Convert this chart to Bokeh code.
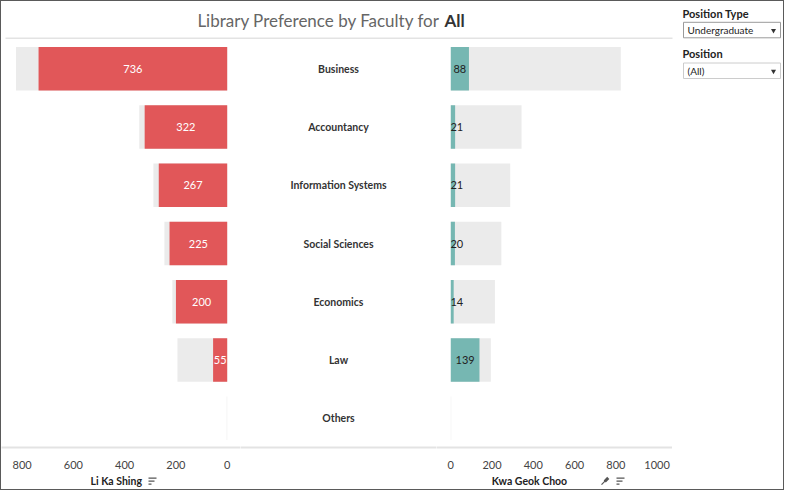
import math
from bokeh.plotting import figure
from bokeh.layouts import column, row
from bokeh.models import Range1d, FactorRange, FixedTicker, ColumnDataSource
from bokeh.core.properties import value
from bokeh.embed import file_html
from bokeh.resources import INLINE

# ---------------- data ----------------
faculties = ["Business", "Accountancy", "Information Systems", "Social Sciences",
             "Economics", "Law", "Others"]
li_ka_shing = [736, 322, 267, 225, 200, 55, 0]
kwa_geok_choo = [88, 21, 21, 20, 14, 139, 0]
faculty_total = [824, 343, 288, 245, 214, 194, 2]
left_ticks = [0, 200, 400, 600, 800]
right_ticks = [0, 200, 400, 600, 800, 1000]

title_text = "Library Preference by Faculty for "
title_bold = "All"
left_title = "Li Ka Shing"
right_title = "Kwa Geok Choo"
position_type_label = "Position Type"
position_type_value = "Undergraduate"
position_label = "Position"
position_value = "(All)"

FONT = "Lato"
RED = "#e15759"
TEAL = "#76b7b2"
GRAY = "#ebebeb"
AXIS_LINE = "#e3e3e3"
TXT = "#333333"

# inner canvas 782 x 486 (plus 1px border => 784 x 488)
HEADER_H = 38
FRAME_H = 408
BOTTOM = 22
FOOTER_H = 18
W_LEFT, W_CENTER, W_RIGHT, W_SIDE = 239, 196, 236, 111
BAR_H = 0.746

cats = list(reversed(faculties))


def panel(fw, xr, axis=True):
    p = figure(frame_width=fw, frame_height=FRAME_H, x_range=xr,
               y_range=FactorRange(factors=cats), toolbar_location=None,
               output_backend="svg", min_border_left=0, min_border_right=0,
               min_border_top=0, min_border_bottom=BOTTOM,
               outline_line_color=None,
               x_axis_location="below" if axis else None, y_axis_location=None)
    p.xgrid.visible = False
    p.ygrid.visible = False
    if axis:
        ax = p.xaxis[0]
        ax.major_tick_line_color = None
        ax.minor_tick_line_color = None
        ax.axis_line_color = AXIS_LINE
        ax.axis_line_width = 2
        ax.major_label_text_font = FONT
        ax.major_label_text_font_size = "11px"
        ax.major_label_text_color = "#444444"
        ax.major_label_standoff = 7
    return p


# ---------------- left panel (Li Ka Shing) ----------------
left_src = ColumnDataSource(dict(fac=faculties, v=li_ka_shing, t=faculty_total))
left = panel(W_LEFT, Range1d(880.6, -51.9))
left.xaxis[0].ticker = FixedTicker(ticks=left_ticks)
left.hbar(y="fac", left=0, right="t", height=BAR_H, source=left_src,
          fill_color=GRAY, line_color=None)
left.hbar(y="fac", left=0, right="v", height=BAR_H, source=left_src,
          fill_color=RED, line_color=None)
lf = [f for f, v in zip(faculties, li_ka_shing) if v > 0]
lv = [v for v in li_ka_shing if v > 0]
left.text(x=[v / 2 for v in lv], y=lf, text=[str(v) for v in lv],
          text_align="center", text_baseline="middle", text_color="white",
          text_font=value(FONT), text_font_size="11px")

# ---------------- center labels ----------------
center = panel(W_CENTER, Range1d(0, 1))
center.xaxis[0].ticker = FixedTicker(ticks=[])
center.text(x=[0.5] * len(faculties), y=faculties, text=faculties,
            text_align="center", text_baseline="middle", text_color=TXT,
            text_font=value(FONT), text_font_size="10.5px", text_font_style="bold")

# ---------------- right panel (Kwa Geok Choo) ----------------
right_src = ColumnDataSource(dict(fac=faculties, v=kwa_geok_choo, t=faculty_total))
right = panel(W_RIGHT, Range1d(-69.3, 1074.7))
right.xaxis[0].ticker = FixedTicker(ticks=right_ticks)
right.hbar(y="fac", left=0, right="t", height=BAR_H, source=right_src,
           fill_color=GRAY, line_color=None)
right.hbar(y="fac", left=0, right="v", height=BAR_H, source=right_src,
           fill_color=TEAL, line_color=None)
rf = [f for f, v in zip(faculties, kwa_geok_choo) if v > 0]
rv = [v for v in kwa_geok_choo if v > 0]
right.text(x=[max(v / 2, 29) for v in rv], y=rf, text=[str(v) for v in rv],
           text_align="center", text_baseline="middle", text_color="#222222",
           text_font=value(FONT), text_font_size="11px")


# ---------------- chrome figures (inner-canvas pixel coordinates) ----------------
def chrome(w, h, x0, x1, y_top, y_bot):
    p = figure(width=w, height=h, x_range=Range1d(x0, x1),
               y_range=Range1d(y_bot, y_top), toolbar_location=None,
               output_backend="svg", min_border=0, outline_line_color=None,
               x_axis_location=None, y_axis_location=None)
    p.xgrid.visible = False
    p.ygrid.visible = False
    return p


def dropdown(p, x0, x1, y0, y1, label, border):
    p.quad(left=[x0], right=[x1], top=[y0], bottom=[y1], fill_color="white",
           line_color=border, line_width=1)
    p.text(x=[x0 + 4], y=[(y0 + y1) / 2], text=[label], text_align="left",
           text_baseline="middle", text_color="#222222", text_font=value(FONT),
           text_font_size="10px")
    p.scatter(x=[x1 - 7], y=[(y0 + y1) / 2 + 0.5], marker="inverted_triangle",
              size=5, fill_color="#333333", line_color=None)


W_ALL = W_LEFT + W_CENTER + W_RIGHT + W_SIDE
header = chrome(W_ALL, HEADER_H, 0, W_ALL, 0, HEADER_H)
header.text(x=[443], y=[18.5], text=[title_text], text_align="right",
            text_baseline="middle", text_color="#666666", text_font=value(FONT),
            text_font_size="17px")
header.text(x=[443], y=[18.5], text=[title_bold], text_align="left",
            text_baseline="middle", text_color="#333333", text_font=value(FONT),
            text_font_size="17px", text_font_style="bold")
header.segment(x0=[4], x1=[671], y0=[37], y1=[37], line_color=AXIS_LINE, line_width=2)
header.text(x=[681], y=[11.6], text=[position_type_label], text_align="left",
            text_baseline="middle", text_color="#222222", text_font=value(FONT),
            text_font_size="11px", text_font_style="bold")
dropdown(header, 682, 779, 20.8, 36.3, position_type_value, "#9a9a9a")

x_side0 = W_LEFT + W_CENTER + W_RIGHT
side = figure(frame_width=W_SIDE, frame_height=FRAME_H,
              x_range=Range1d(x_side0, W_ALL),
              y_range=Range1d(HEADER_H + FRAME_H, HEADER_H), toolbar_location=None,
              output_backend="svg", min_border_left=0, min_border_right=0,
              min_border_top=0, min_border_bottom=BOTTOM, outline_line_color=None,
              x_axis_location=None, y_axis_location=None)
side.xgrid.visible = False
side.ygrid.visible = False
side.text(x=[681], y=[52.3], text=[position_label], text_align="left",
          text_baseline="middle", text_color="#222222", text_font=value(FONT),
          text_font_size="11px", text_font_style="bold")
dropdown(side, 682, 779, 61.5, 77.0, position_value, "#cccccc")

y_foot0 = HEADER_H + FRAME_H + BOTTOM
footer = chrome(W_ALL, FOOTER_H, 0, W_ALL, y_foot0, y_foot0 + FOOTER_H)
fy = 477.7
footer.text(x=[114.7], y=[fy], text=[left_title], text_align="center",
            text_baseline="middle", text_color="#222222", text_font=value(FONT),
            text_font_size="10.5px", text_font_style="bold")
footer.text(x=[528], y=[fy], text=[right_title], text_align="center",
            text_baseline="middle", text_color="#222222", text_font=value(FONT),
            text_font_size="10.5px", text_font_style="bold")
for sx in (147, 615):
    footer.segment(x0=[sx, sx, sx], x1=[sx + 8, sx + 6, sx + 3],
                   y0=[fy - 3, fy, fy + 3], y1=[fy - 3, fy, fy + 3],
                   line_color="#555555", line_width=1.2)
# pin icon
footer.segment(x0=[600], y0=[fy + 3.5], x1=[603.5], y1=[fy], line_color="#555555",
               line_width=1.2)
footer.rect(x=[605], y=[fy - 1.5], width=5, height=3, angle=math.radians(45),
            fill_color="#555555", line_color=None)

mid = row(left, center, right, side)
layout = column(header, mid, footer, styles={"border": "1px solid #5a5a5a"})

open("out.html", "w").write(file_html(layout, INLINE))
